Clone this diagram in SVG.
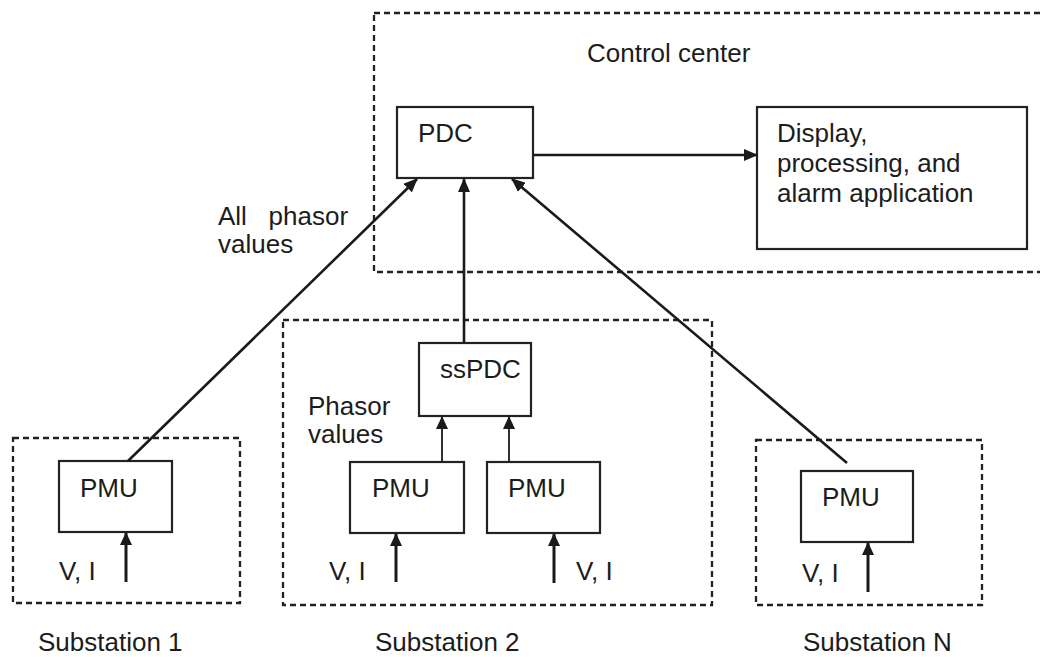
<svg xmlns="http://www.w3.org/2000/svg" width="1040" height="657" viewBox="0 0 1040 657">
<style>
  text { font-family: "Liberation Sans", Arial, sans-serif; font-size: 26px; fill: #1c1c1c; }
  .dash { fill: none; stroke: #222222; stroke-width: 2.3; stroke-dasharray: 6 4; }
  .box { fill: #ffffff; stroke: #222222; stroke-width: 2.2; }
  .link { fill: none; stroke: #1a1a1a; stroke-width: 2.6; }
  .thin { fill: none; stroke: #1a1a1a; stroke-width: 1.8; }
  .input { fill: none; stroke: #1a1a1a; stroke-width: 3; }
</style>
<defs>
  <marker id="ah" markerUnits="userSpaceOnUse" markerWidth="14" markerHeight="12" refX="13" refY="6" orient="auto">
    <path d="M0,0 L14,6 L0,12 z" fill="#1a1a1a"/>
  </marker>
  <marker id="ahs" markerUnits="userSpaceOnUse" markerWidth="13" markerHeight="12" refX="12" refY="6" orient="auto">
    <path d="M0,0 L13,6 L0,12 z" fill="#1a1a1a"/>
  </marker>
</defs>
<rect width="1040" height="657" fill="#ffffff"/>

<g id="control-center">
  <rect class="dash" x="374" y="13" width="690" height="259"/>
  <text x="587" y="62">Control center</text>
</g>

<g id="substation-1">
  <rect class="dash" x="13" y="438" width="227" height="165"/>
  <text x="38" y="651">Substation 1</text>
</g>

<g id="substation-2">
  <rect class="dash" x="283" y="320" width="429" height="285"/>
  <text x="375" y="651">Substation 2</text>
  <text x="308" y="415">Phasor</text>
  <text x="308" y="443">values</text>
</g>

<g id="substation-n">
  <rect class="dash" x="756" y="440" width="226" height="165"/>
  <text x="803" y="651">Substation N</text>
</g>

<g id="pdc">
  <rect class="box" x="397" y="107" width="136" height="71"/>
  <text x="418" y="142">PDC</text>
</g>

<g id="display">
  <rect class="box" x="757" y="107" width="270" height="142"/>
  <text x="777" y="142">Display,</text>
  <text x="777" y="172">processing, and</text>
  <text x="777" y="202">alarm application</text>
</g>

<g id="sspdc">
  <rect class="box" x="419" y="343" width="112" height="73"/>
  <text x="440" y="378">ssPDC</text>
</g>

<g id="pmu-1">
  <rect class="box" x="59" y="461" width="113" height="71"/>
  <text x="80" y="497">PMU</text>
  <text x="59" y="580">V, I</text>
</g>

<g id="pmu-2a">
  <rect class="box" x="350" y="462" width="114" height="71"/>
  <text x="372" y="497">PMU</text>
  <text x="329" y="580">V, I</text>
</g>

<g id="pmu-2b">
  <rect class="box" x="487" y="462" width="113" height="71"/>
  <text x="508" y="497">PMU</text>
  <text x="576" y="580">V, I</text>
</g>

<g id="pmu-n">
  <rect class="box" x="801" y="471" width="112" height="71"/>
  <text x="822" y="506">PMU</text>
  <text x="802" y="582">V, I</text>
</g>

<g id="connectors">
  <line class="link" x1="533" y1="155" x2="757" y2="155" marker-end="url(#ah)"/>
  <line class="link" x1="128" y1="461" x2="417" y2="179" marker-end="url(#ah)"/>
  <line class="link" x1="464" y1="343" x2="464" y2="179" marker-end="url(#ah)"/>
  <line class="link" x1="847" y1="463" x2="512" y2="179" marker-end="url(#ah)"/>
  <line class="thin" x1="442" y1="462" x2="442" y2="417" marker-end="url(#ahs)"/>
  <line class="thin" x1="509" y1="462" x2="509" y2="417" marker-end="url(#ahs)"/>
  <line class="input" x1="126" y1="582" x2="126" y2="533" marker-end="url(#ahs)"/>
  <line class="input" x1="396" y1="582" x2="396" y2="534" marker-end="url(#ahs)"/>
  <line class="input" x1="554" y1="583" x2="554" y2="534" marker-end="url(#ahs)"/>
  <line class="input" x1="868" y1="592" x2="868" y2="543" marker-end="url(#ahs)"/>
  <text x="218" y="225" xml:space="preserve">All   phasor</text>
  <text x="218" y="253">values</text>
</g>
</svg>
